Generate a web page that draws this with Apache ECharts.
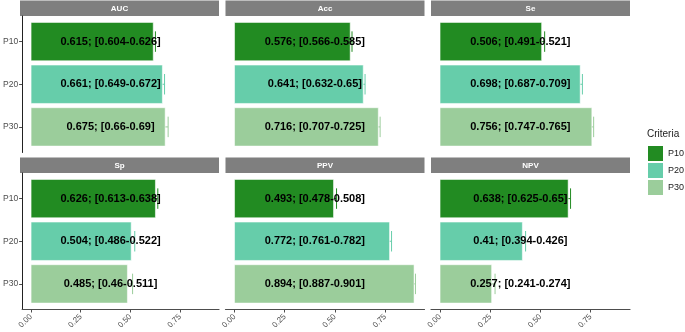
<!DOCTYPE html>
<html><head><meta charset="utf-8">
<script src="https://cdn.jsdelivr.net/npm/echarts@6/dist/echarts.min.js"></script>
<style>html,body{margin:0;padding:0;background:#fff}#c{width:685px;height:332px}</style>
</head><body><div id="c"></div>
<script>
const criteria = ['AUC','Acc','Se','Sp','PPV','NPV'];
const groups = ['P10','P20','P30'];
const colors = ['#228B22','#66CDAA','#9BCD9B'];
const xTicks = [0, 0.25, 0.5, 0.75];
const xTickLabels = ['0.00','0.25','0.50','0.75'];
const labelAt = 0.4;

const estP10 = [0.615, 0.576, 0.506, 0.626, 0.493, 0.638];
const lowP10 = [0.604, 0.566, 0.491, 0.613, 0.478, 0.625];
const highP10 = [0.626, 0.585, 0.521, 0.638, 0.508, 0.65];
const estP20 = [0.661, 0.641, 0.698, 0.504, 0.772, 0.41];
const lowP20 = [0.649, 0.632, 0.687, 0.486, 0.761, 0.394];
const highP20 = [0.672, 0.65, 0.709, 0.522, 0.782, 0.426];
const estP30 = [0.675, 0.716, 0.756, 0.485, 0.894, 0.257];
const lowP30 = [0.66, 0.707, 0.747, 0.46, 0.887, 0.241];
const highP30 = [0.69, 0.725, 0.765, 0.511, 0.901, 0.274];

const est = [estP10, estP20, estP30];
const low = [lowP10, lowP20, lowP30];
const high = [highP10, highP20, highP30];

const allHigh = highP10.concat(highP20, highP30);
const xMaxData = Math.max(...allHigh);
const xMin = -0.05 * xMaxData, xMax = xMaxData * 1.05;

const FONT = '"Liberation Sans", Arial, sans-serif';
const colLeft = [20, 225.5, 431];
const panelW = 199;
const stripTop = [0.5, 157.5];
const stripH = 15.5;
const panelH = 136.5;

const grids = [], xAxes = [], yAxes = [], series = [], graphics = [];
criteria.forEach((crit, p) => {
  const r = Math.floor(p / 3), c = p % 3;
  const top = stripTop[r] + stripH;
  grids.push({left: colLeft[c], top: top, width: panelW, height: panelH, containLabel: false});
  graphics.push({type:'rect', left: colLeft[c], top: stripTop[r], shape:{width: panelW, height: stripH}, style:{fill:'#7F7F7F'}, silent:true});
  graphics.push({type:'text', x: colLeft[c] + panelW/2, y: stripTop[r] + stripH/2 + 0.5,
    style:{text: crit, fill:'#ffffff', font:'bold 8px ' + FONT, align:'center', verticalAlign:'middle'}, silent:true});
  const showX = r === 1, showY = c === 0;
  xAxes.push({type:'value', gridIndex:p, min:xMin, max:xMax,
    axisLine:{show:showX, onZero:false, lineStyle:{color:'#4d4d4d', width:1.2}},
    axisTick:{show:showX, length:3, customValues:xTicks, lineStyle:{color:'#4d4d4d'}},
    axisLabel:{show:showX, rotate:45, margin:6, fontSize:8, color:'#4D4D4D', fontFamily:FONT,
      customValues:xTicks, formatter:(v)=>xTickLabels[xTicks.findIndex(t=>Math.abs(t-v)<1e-9)] || ''},
    splitLine:{show:false}});
  yAxes.push({type:'value', gridIndex:p, min:-0.6, max:2.6, inverse:true,
    axisLine:{show:showY, onZero:false, lineStyle:{color:'#222', width:1}},
    axisTick:{show:showY, length:3, customValues:[0,1,2], lineStyle:{color:'#4d4d4d'}},
    axisLabel:{show:showY, margin:4, fontSize:8.5, color:'#4D4D4D', fontFamily:FONT,
      customValues:[0,1,2], formatter:(v)=>groups[Math.round(v)]},
    splitLine:{show:false}});
  groups.forEach((g, gi) => {
    const e = est[gi][p], lo = low[gi][p], hi = high[gi][p];
    const txt = e + '; [' + lo + '-' + hi + ']';
    series.push({type:'custom', name:g, xAxisIndex:p, yAxisIndex:p,
      itemStyle:{color:colors[gi]},
      encode:{x:0, y:1},
      data:[[e, gi, lo, hi]],
      renderItem:(params, api) => {
        const v = api.value(0), i = api.value(1), l = api.value(2), h = api.value(3);
        const band = Math.abs(api.size([0,1])[1]);
        const p0 = api.coord([0, i]), pv = api.coord([v, i]);
        const pl = api.coord([l, i]), ph = api.coord([h, i]);
        const bh = band * 0.9, ch = band * 0.24;
        const pt = api.coord([labelAt, i]);
        return {type:'group', children:[
          {type:'line', shape:{x1:pl[0], y1:pl[1], x2:ph[0], y2:ph[1]}, style:{stroke:colors[gi], lineWidth:1}},
          {type:'line', shape:{x1:pl[0], y1:pl[1]-ch, x2:pl[0], y2:pl[1]+ch}, style:{stroke:colors[gi], lineWidth:1}},
          {type:'line', shape:{x1:ph[0], y1:ph[1]-ch, x2:ph[0], y2:ph[1]+ch}, style:{stroke:colors[gi], lineWidth:1}},
          {type:'rect', shape:{x:p0[0], y:p0[1]-bh/2, width:pv[0]-p0[0], height:bh},
            style:{fill:colors[gi], stroke:'rgba(255,255,255,0.55)', lineWidth:1}},
          {type:'text', x:pt[0], y:pt[1], style:{text:txt, fill:'#000', font:'bold 11px ' + FONT, align:'center', verticalAlign:'middle'}}
        ]};
      }});
  });
});

graphics.push({type:'text', left:647, top:129, style:{text:'Criteria', fill:'#1a1a1a', font:'10px ' + FONT}, silent:true});

const chart = echarts.init(document.getElementById('c'), null, {renderer:'canvas'});
chart.setOption({
  animation:false,
  backgroundColor:'#ffffff',
  grid:grids, xAxis:xAxes, yAxis:yAxes, series:series,
  legend:{data:groups, orient:'vertical', left:648, top:146, itemWidth:15, itemHeight:15, itemGap:2,
    icon:'rect', padding:0, selectedMode:false,
    textStyle:{fontSize:9, color:'#1a1a1a', fontFamily:FONT}},
  graphic:graphics
});
</script></body></html>
